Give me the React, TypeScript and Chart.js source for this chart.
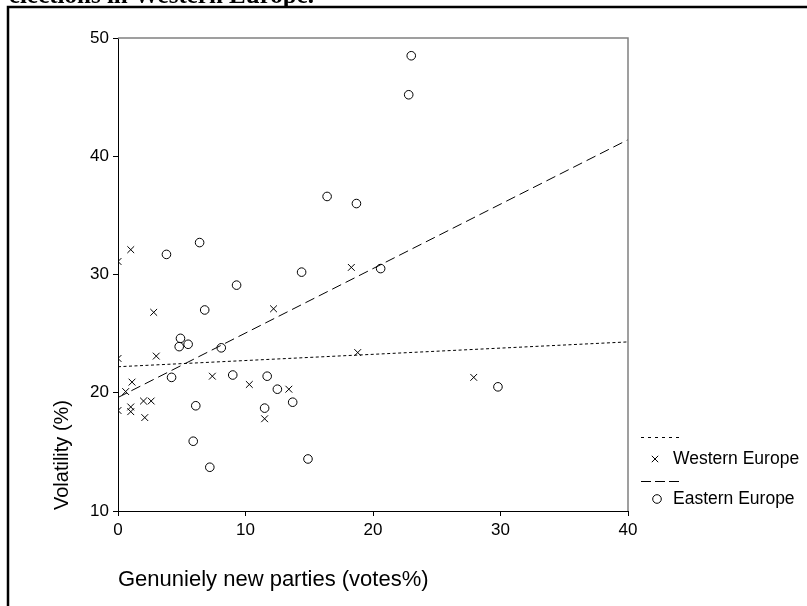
import React, { useEffect, useRef } from "react";
import { Chart, registerables } from "chart.js";

Chart.register(...registerables);

// ---- data ----
const westernX = [0, 1.0, 2.8, 12.2, 18.3, 0, 3.0, 7.4, 18.8, 10.3, 1.1, 0.6, 0, 1.0, 1.0, 2.0, 2.6, 2.1, 11.5, 13.4, 27.9];
const westernY = [31.1, 32.1, 26.8, 27.1, 30.6, 22.9, 23.1, 21.4, 23.4, 20.7, 20.9, 20.1, 18.5, 18.4, 18.8, 19.3, 19.3, 17.9, 17.8, 20.3, 21.3];

const easternX = [6.4, 3.8, 9.3, 6.8, 4.9, 4.8, 5.5, 8.1, 4.2, 9.0, 11.7, 12.5, 6.1, 5.9, 7.2, 11.5, 13.7, 14.4, 20.6, 29.8, 14.9, 23.0, 22.8, 16.4, 18.7];
const easternY = [32.7, 31.7, 29.1, 27.0, 24.6, 23.9, 24.1, 23.8, 21.3, 21.5, 21.4, 20.3, 18.9, 15.9, 13.7, 18.7, 19.2, 30.2, 30.5, 20.5, 14.4, 48.5, 45.2, 36.6, 36.0];

const westernFitX = [0, 40];
const westernFitY = [22.2, 24.3];
const easternFitX = [0, 40];
const easternFitY = [19.6, 41.4];

const xTicks = [0, 10, 20, 30, 40];
const yTicks = [10, 20, 30, 40, 50];

const seriesLabels = ["Western Europe", "Eastern Europe"];
const xTitle = "Genuniely new parties (votes%)";
const yTitle = "Volatility (%)";
const pageTitle = "elections in Western Europe.";

const SANS = '"Liberation Sans", Arial, sans-serif';
const SERIF = '"Liberation Serif", "Times New Roman", serif';

const zip = (xs: number[], ys: number[]) => xs.map((x, i) => ({ x, y: ys[i] }));

const decor = {
  id: "decor",
  afterDraw(chart: any) {
    const ctx = chart.ctx as CanvasRenderingContext2D;
    const a = chart.chartArea;
    ctx.save();

    // outer frame (document table cell)
    ctx.strokeStyle = "#000";
    ctx.lineWidth = 2.5;
    ctx.setLineDash([]);
    ctx.beginPath();
    ctx.moveTo(8, 606);
    ctx.lineTo(8, 7);
    ctx.lineTo(807, 7);
    ctx.stroke();

    // clipped caption above frame
    ctx.fillStyle = "#000";
    ctx.font = "bold 25px " + SERIF;
    ctx.textBaseline = "alphabetic";
    ctx.textAlign = "left";
    ctx.fillText(pageTitle, 9, 3);

    // gray top / right plot border
    ctx.strokeStyle = "#808080";
    ctx.lineWidth = 1.5;
    ctx.beginPath();
    ctx.moveTo(a.left, a.top);
    ctx.lineTo(a.right, a.top);
    ctx.lineTo(a.right, a.bottom);
    ctx.stroke();

    // axis titles
    ctx.fillStyle = "#000";
    ctx.font = "22px " + SANS;
    ctx.textAlign = "left";
    ctx.textBaseline = "middle";
    ctx.fillText(xTitle, 118, 580);

    ctx.save();
    ctx.font = "20px " + SANS;
    ctx.translate(62, 455);
    ctx.rotate(-Math.PI / 2);
    ctx.textAlign = "center";
    ctx.fillText(yTitle, 0, 0);
    ctx.restore();

    // legend
    ctx.strokeStyle = "#000";
    ctx.lineWidth = 1;
    ctx.setLineDash([3, 4]);
    ctx.beginPath();
    ctx.moveTo(641, 437.5);
    ctx.lineTo(682, 437.5);
    ctx.stroke();

    ctx.setLineDash([10, 4]);
    ctx.beginPath();
    ctx.moveTo(641, 481.5);
    ctx.lineTo(683, 481.5);
    ctx.stroke();
    ctx.setLineDash([]);

    // cross marker
    const cx = 655, cy = 459, r = 3.2;
    ctx.beginPath();
    ctx.moveTo(cx - r, cy - r);
    ctx.lineTo(cx + r, cy + r);
    ctx.moveTo(cx - r, cy + r);
    ctx.lineTo(cx + r, cy - r);
    ctx.stroke();

    // circle marker
    ctx.beginPath();
    ctx.arc(657, 499, 4.3, 0, Math.PI * 2);
    ctx.stroke();

    ctx.font = "17.5px " + SANS;
    ctx.textAlign = "left";
    ctx.textBaseline = "middle";
    ctx.fillText(seriesLabels[0], 673, 459);
    ctx.fillText(seriesLabels[1], 673, 499);

    ctx.restore();
  },
};

export default function App() {
  const ref = useRef<HTMLCanvasElement | null>(null);

  useEffect(() => {
    if (!ref.current) return;
    const chart = new Chart(ref.current, {
      type: "scatter",
      data: {
        datasets: [
          {
            label: seriesLabels[0] + " fit",
            type: "line",
            data: zip(westernFitX, westernFitY),
            borderColor: "#000",
            borderWidth: 1,
            borderDash: [3, 2.5],
            pointRadius: 0,
            fill: false,
            tension: 0,
          } as any,
          {
            label: seriesLabels[1] + " fit",
            type: "line",
            data: zip(easternFitX, easternFitY),
            borderColor: "#000",
            borderWidth: 1,
            borderDash: [10, 5],
            pointRadius: 0,
            fill: false,
            tension: 0,
          } as any,
          {
            label: seriesLabels[0],
            data: zip(westernX, westernY),
            pointStyle: "crossRot",
            pointRadius: 4.8,
            borderColor: "#000",
            borderWidth: 1,
            backgroundColor: "transparent",
          },
          {
            label: seriesLabels[1],
            data: zip(easternX, easternY),
            pointStyle: "circle",
            pointRadius: 4.3,
            borderColor: "#000",
            borderWidth: 1,
            backgroundColor: "transparent",
          },
        ],
      },
      options: {
        animation: false,
        responsive: false,
        devicePixelRatio: 1,
        layout: { padding: { left: 0, top: 38, right: 179, bottom: 0 } },
        plugins: {
          legend: { display: false },
          tooltip: { enabled: false },
          title: { display: false },
        },
        scales: {
          x: {
            type: "linear",
            min: 0,
            max: 40,
            afterBuildTicks: (s: any) => {
              s.ticks = xTicks.map((v) => ({ value: v }));
            },
            ticks: {
              color: "#000",
              font: { family: SANS, size: 17 },
              padding: 4,
            },
            grid: { drawOnChartArea: false, drawTicks: true, tickLength: 5, color: "#000" },
            border: { display: true, color: "#000", width: 1 },
            afterFit: (s: any) => {
              s.height = 95;
            },
          },
          y: {
            type: "linear",
            min: 10,
            max: 50,
            afterBuildTicks: (s: any) => {
              s.ticks = yTicks.map((v) => ({ value: v }));
            },
            ticks: {
              color: "#000",
              font: { family: SANS, size: 17 },
              padding: 4,
            },
            grid: { drawOnChartArea: false, drawTicks: true, tickLength: 5, color: "#000" },
            border: { display: true, color: "#000", width: 1 },
            afterFit: (s: any) => {
              s.width = 118;
            },
          },
        },
      },
      plugins: [decor],
    });
    return () => chart.destroy();
  }, []);

  return (
    <canvas
      ref={ref}
      width={807}
      height={606}
      style={{ position: "fixed", left: 0, top: 0, background: "#fff" }}
    />
  );
}
